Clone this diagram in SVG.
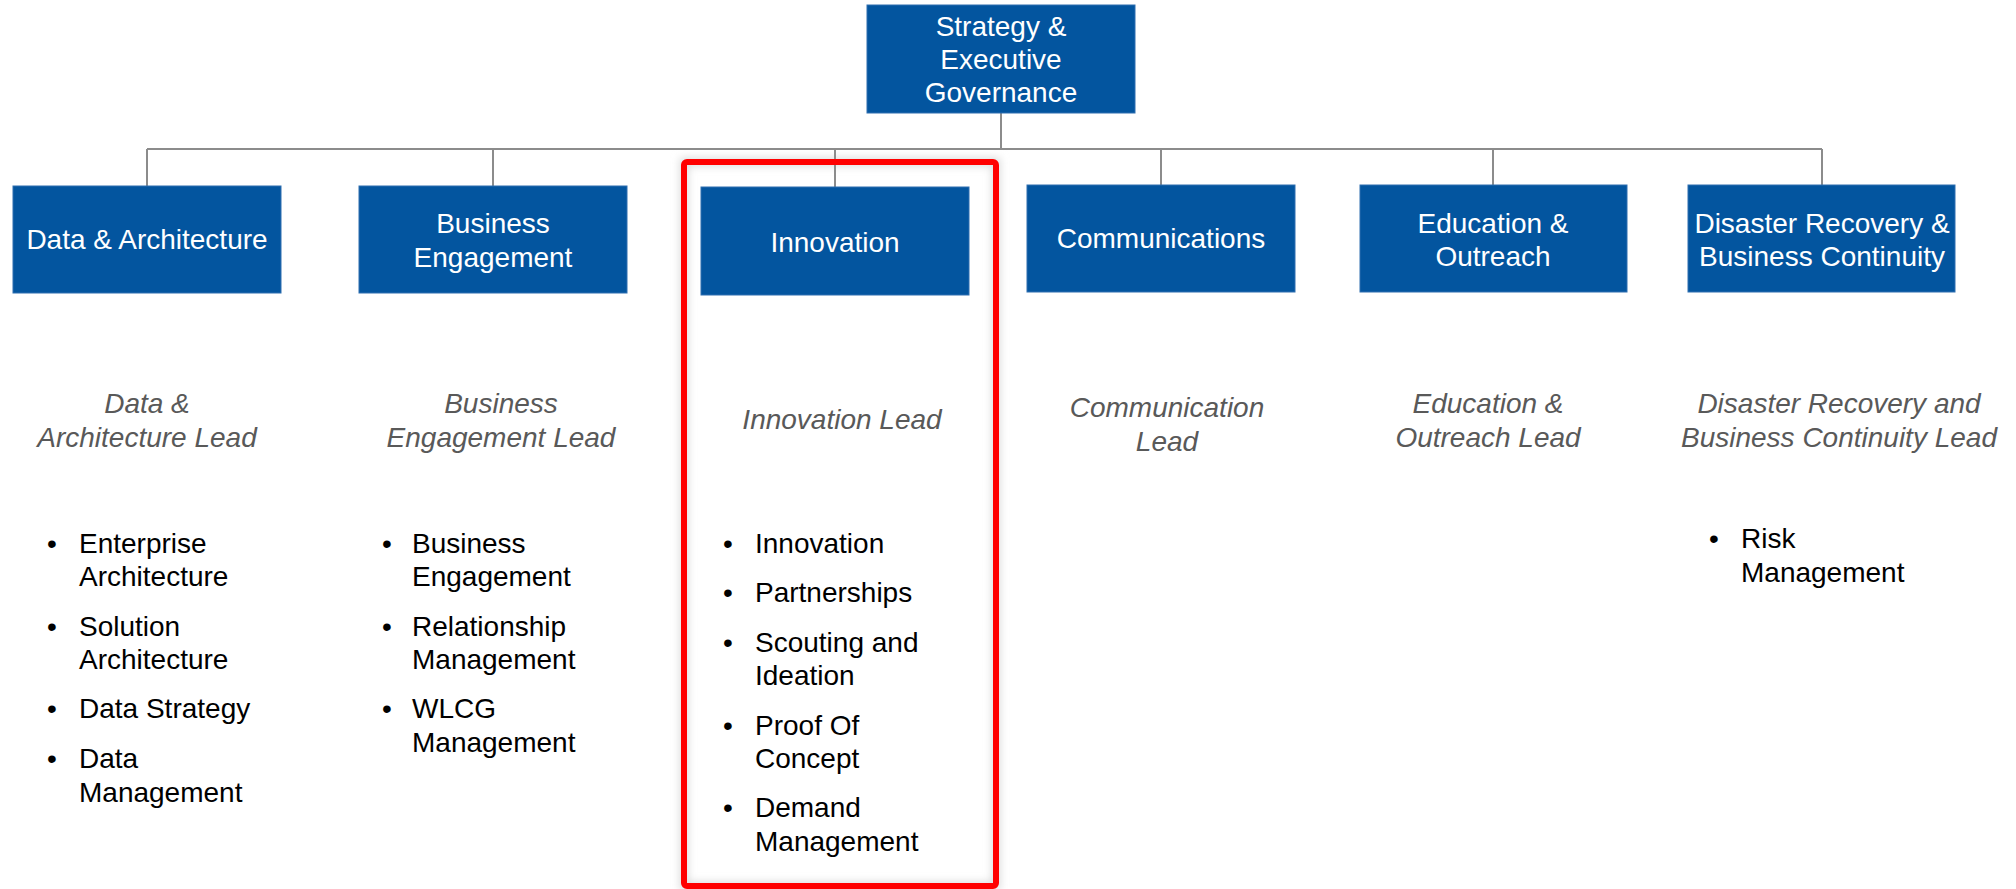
<svg xmlns="http://www.w3.org/2000/svg" width="2016" height="889" viewBox="0 0 2016 889">
<style>
.box{fill:#03559F;stroke:#2f6fb0;stroke-width:1}
.bt{font-family:"Liberation Sans",Arial,sans-serif;font-size:28px;fill:#ffffff;text-anchor:middle}
.lead{font-family:"Liberation Sans",Arial,sans-serif;font-size:28px;font-style:italic;fill:#595959;text-anchor:middle}
.bl{font-family:"Liberation Sans",Arial,sans-serif;font-size:28px;fill:#000000}
.dot{text-anchor:middle}
.conn{stroke:#8c8c8c;stroke-width:2;fill:none}
</style>
<defs>
<filter id="sh" x="-10%" y="-5%" width="120%" height="110%"><feGaussianBlur stdDeviation="4"/></filter>
</defs>
<rect width="2016" height="889" fill="#ffffff"/>
<g id="highlight-shadow">
<rect x="684" y="162" width="312" height="724" fill="none" stroke="#d8d8d8" stroke-width="8" filter="url(#sh)"/>
</g>
<g id="connectors">
<line class="conn" x1="1001" y1="113" x2="1001" y2="149"/>
<line class="conn" x1="147" y1="149" x2="1822" y2="149"/>
<line class="conn" x1="147" y1="149" x2="147" y2="186"/>
<line class="conn" x1="493" y1="149" x2="493" y2="186"/>
<line class="conn" x1="835" y1="149" x2="835" y2="187"/>
<line class="conn" x1="1161" y1="149" x2="1161" y2="185"/>
<line class="conn" x1="1493" y1="149" x2="1493" y2="185"/>
<line class="conn" x1="1822" y1="149" x2="1822" y2="185"/>
</g>
<g id="strategy">
<rect class="box" x="867" y="5" width="268" height="108"/>
<text class="bt"><tspan x="1001" y="36">Strategy &amp;</tspan><tspan x="1001" y="69">Executive</tspan><tspan x="1001" y="102">Governance</tspan></text>
</g>
<g id="data-architecture">
<rect class="box" x="13" y="186" width="268" height="107"/>
<text class="bt"><tspan x="147" y="249">Data &amp; Architecture</tspan></text>
<text class="lead"><tspan x="147" y="413">Data &amp;</tspan><tspan x="147" y="447">Architecture Lead</tspan></text>
<text class="bl dot" x="52" y="552.7">•</text><text class="bl" x="79" y="552.7">Enterprise</text><text class="bl" x="79" y="586">Architecture</text>
<text class="bl dot" x="52" y="635.7">•</text><text class="bl" x="79" y="635.7">Solution</text><text class="bl" x="79" y="669">Architecture</text>
<text class="bl dot" x="52" y="718.3">•</text><text class="bl" x="79" y="718.3">Data Strategy</text>
<text class="bl dot" x="52" y="768.3">•</text><text class="bl" x="79" y="768.3">Data</text><text class="bl" x="79" y="801.7">Management</text>
</g>
<g id="business-engagement">
<rect class="box" x="359" y="186" width="268" height="107"/>
<text class="bt"><tspan x="493" y="232.7">Business</tspan><tspan x="493" y="266.5">Engagement</tspan></text>
<text class="lead"><tspan x="501" y="413">Business</tspan><tspan x="501" y="447">Engagement Lead</tspan></text>
<text class="bl dot" x="387" y="552.7">•</text><text class="bl" x="412" y="552.7">Business</text><text class="bl" x="412" y="586">Engagement</text>
<text class="bl dot" x="387" y="635.7">•</text><text class="bl" x="412" y="635.7">Relationship</text><text class="bl" x="412" y="669">Management</text>
<text class="bl dot" x="387" y="718.3">•</text><text class="bl" x="412" y="718.3">WLCG</text><text class="bl" x="412" y="751.7">Management</text>
</g>
<g id="innovation">
<rect class="box" x="701" y="187" width="268" height="108"/>
<text class="bt"><tspan x="835" y="251.5">Innovation</tspan></text>
<text class="lead"><tspan x="842" y="429.3">Innovation Lead</tspan></text>
<text class="bl dot" x="728" y="552.7">•</text><text class="bl" x="755" y="552.7">Innovation</text>
<text class="bl dot" x="728" y="601.7">•</text><text class="bl" x="755" y="601.7">Partnerships</text>
<text class="bl dot" x="728" y="651.7">•</text><text class="bl" x="755" y="651.7">Scouting and</text><text class="bl" x="755" y="685">Ideation</text>
<text class="bl dot" x="728" y="735">•</text><text class="bl" x="755" y="735">Proof Of</text><text class="bl" x="755" y="768.3">Concept</text>
<text class="bl dot" x="728" y="817.3">•</text><text class="bl" x="755" y="817.3">Demand</text><text class="bl" x="755" y="851">Management</text>
<rect x="684" y="162" width="312" height="724" rx="3" fill="none" stroke="#ff0000" stroke-width="6"/>
</g>
<g id="communications">
<rect class="box" x="1027" y="185" width="268" height="107"/>
<text class="bt"><tspan x="1161" y="248">Communications</tspan></text>
<text class="lead"><tspan x="1167" y="417.3">Communication</tspan><tspan x="1167" y="450.5">Lead</tspan></text>
</g>
<g id="education-outreach">
<rect class="box" x="1360" y="185" width="267" height="107"/>
<text class="bt"><tspan x="1493" y="232.7">Education &amp;</tspan><tspan x="1493" y="266">Outreach</tspan></text>
<text class="lead"><tspan x="1488" y="413">Education &amp;</tspan><tspan x="1488" y="447">Outreach Lead</tspan></text>
</g>
<g id="disaster-recovery">
<rect class="box" x="1688" y="185" width="267" height="107"/>
<text class="bt"><tspan x="1822" y="232.7">Disaster Recovery &amp;</tspan><tspan x="1822" y="266">Business Continuity</tspan></text>
<text class="lead"><tspan x="1839" y="413">Disaster Recovery and</tspan><tspan x="1839" y="447">Business Continuity Lead</tspan></text>
<text class="bl dot" x="1714" y="548.3">•</text><text class="bl" x="1741" y="548.3">Risk</text><text class="bl" x="1741" y="581.7">Management</text>
</g>
</svg>
